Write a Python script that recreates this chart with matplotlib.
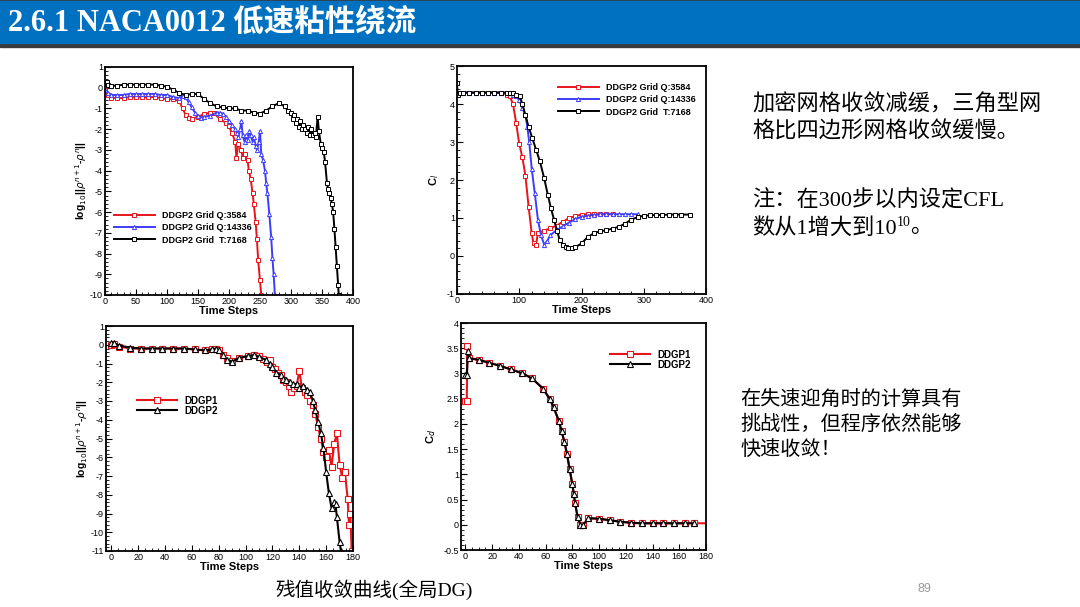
# NACA0012 slide: residual / lift / drag convergence curves
import numpy as np
import matplotlib
matplotlib.use('Agg')
import matplotlib.pyplot as plt
from matplotlib.patches import Rectangle
from matplotlib.ticker import MultipleLocator, FormatStrFormatter

plt.rcParams['font.family'] = ['Liberation Sans', 'DejaVu Sans']
plt.rcParams['axes.unicode_minus'] = False

# ---- top-left: residual, three grids ----
r1_t = [0, 5, 10, 20, 30, 40, 50, 60, 70, 80, 90, 100, 110, 120, 125, 130, 135, 140, 150, 160, 170, 175,
        185, 195, 200, 205, 210, 212, 215, 220, 222, 225, 230, 232, 235, 238, 240, 243, 245, 247, 250, 252]
r1_v = [-0.1, -0.35, -0.5, -0.5, -0.5, -0.45, -0.45, -0.45, -0.45, -0.45, -0.5, -0.55, -0.55, -0.65, -1.0, -1.3,
        -1.45, -1.5, -1.4, -1.27, -1.2, -1.2, -1.5, -1.7, -1.87, -2.2, -2.6, -3.4, -2.7, -3.0, -3.4, -3.2, -3.5,
        -4.0, -4.4, -5.1, -5.6, -6.5, -7.3, -8.3, -9.3, -10.0]
b1_t = [0, 5, 10, 20, 30, 40, 50, 60, 70, 80, 90, 100, 110, 120, 125, 130, 135, 140, 145, 150, 155, 160, 170,
        180, 185, 190, 195, 200, 205, 210, 213, 215, 218, 220, 222, 225, 228, 230, 233, 235, 238, 240, 243, 245,
        248, 250, 252, 255, 258, 260, 262, 265, 268, 270, 272, 274]
b1_v = [-0.1, -0.25, -0.35, -0.35, -0.35, -0.3, -0.3, -0.3, -0.3, -0.3, -0.35, -0.35, -0.45, -0.5, -0.4, -0.45,
        -0.7, -0.95, -1.2, -1.35, -1.45, -1.4, -1.35, -1.2, -1.2, -1.25, -1.4, -1.6, -1.8, -2.0, -2.2, -2.4, -2.0,
        -1.6, -2.3, -2.6, -2.3, -2.5, -2.1, -2.3, -2.6, -2.4, -2.8, -3.0, -2.6, -2.1, -3.2, -3.5, -4.0, -4.6,
        -5.1, -6.1, -7.2, -8.2, -9.0, -10.0]
k1_t = [0, 3, 5, 10, 20, 30, 40, 50, 60, 70, 80, 90, 100, 110, 120, 130, 140, 150, 160, 170, 180, 190, 200,
        210, 220, 230, 240, 250, 260, 270, 280, 290, 295, 300, 303, 305, 308, 310, 313, 315, 318, 320, 323, 325,
        328, 330, 333, 335, 338, 340, 343, 345, 348, 350, 353, 355, 358, 360, 362, 364, 366, 368, 370, 372, 374,
        376, 377]
k1_v = [0.2, 0.3, 0.15, 0.1, 0.1, 0.15, 0.15, 0.15, 0.15, 0.15, 0.15, 0.1, 0.05, -0.1, -0.25, -0.35, -0.3,
        -0.3, -0.55, -0.75, -0.9, -0.95, -1.0, -1.0, -1.1, -1.1, -1.2, -1.25, -1.1, -0.9, -0.75, -0.9, -1.1,
        -1.2, -1.5, -1.3, -1.7, -1.5, -1.9, -1.6, -2.0, -1.8, -2.0, -2.2, -1.9, -2.3, -2.0, -2.3, -2.2, -2.4,
        -1.4, -2.1, -2.7, -2.9, -3.1, -3.6, -4.6, -4.9, -5.1, -5.3, -5.6, -6.0, -6.8, -7.7, -8.6, -9.5, -10.0]

# ---- top-right: lift coefficient ----
r2_t = [0, 5, 10, 20, 30, 40, 50, 60, 70, 80, 85, 90, 95, 100, 105, 110, 115, 120, 123, 127, 130, 140, 150,
        160, 170, 180, 190, 200, 210, 220, 230, 240, 250]
r2_v = [4.25, 4.3, 4.3, 4.3, 4.3, 4.3, 4.3, 4.3, 4.3, 4.25, 4.2, 4.0, 3.5, 2.95, 2.6, 2.1, 1.3, 0.6, 0.33,
        0.3, 0.6, 0.67, 0.73, 0.8, 0.9, 1.0, 1.05, 1.09, 1.1, 1.1, 1.1, 1.1, 1.1]
b2_t = [0, 5, 10, 20, 30, 40, 50, 60, 70, 80, 90, 95, 100, 105, 110, 113, 116, 120, 125, 130, 135, 140, 145,
        150, 160, 170, 180, 190, 200, 210, 220, 230, 240, 250, 260, 270, 280, 290]
b2_v = [4.3, 4.3, 4.3, 4.3, 4.3, 4.3, 4.3, 4.3, 4.3, 4.3, 4.25, 4.2, 4.1, 3.9, 3.7, 3.4, 3.0, 2.3, 1.65, 0.95,
        0.55, 0.3, 0.4, 0.55, 0.68, 0.78, 0.88, 0.97, 1.03, 1.06, 1.08, 1.1, 1.1, 1.1, 1.1, 1.1, 1.1, 1.1]
k2_t = [0, 1, 5, 10, 20, 30, 40, 50, 60, 70, 80, 85, 90, 95, 101, 105, 110, 115, 121, 127, 133, 140, 146, 151,
        156, 161, 165, 170, 175, 179, 185, 190, 200, 210, 220, 230, 240, 250, 260, 270, 280, 290, 300, 310,
        320, 330, 340, 350, 360, 375]
k2_v = [4.55, 4.25, 4.3, 4.3, 4.3, 4.3, 4.3, 4.3, 4.3, 4.3, 4.3, 4.3, 4.28, 4.25, 4.2, 4.0, 3.7, 3.4, 3.1,
        2.8, 2.5, 2.05, 1.6, 1.25, 0.95, 0.65, 0.42, 0.3, 0.23, 0.2, 0.22, 0.23, 0.33, 0.5, 0.6, 0.65, 0.68,
        0.72, 0.77, 0.85, 0.96, 1.02, 1.06, 1.07, 1.08, 1.08, 1.09, 1.09, 1.09, 1.09]

# ---- bottom-left: residual DDGP1 / DDGP2 ----
p1_t = [0, 2, 6, 14, 22, 30, 38, 46, 54, 62, 70, 75, 78, 80, 83, 86, 90, 95, 102, 106, 110, 113, 116, 118,
        120, 122, 124, 126, 128, 130, 132, 134, 136, 138, 140, 142, 144, 146, 148, 150, 152, 154, 156, 158, 160,
        162, 164, 166, 168, 170, 172, 174, 176, 177, 178, 179]
p1_v = [0.0, 0.05, -0.1, -0.2, -0.2, -0.2, -0.2, -0.2, -0.2, -0.25, -0.3, -0.25, -0.2, -0.3, -0.55, -0.7,
        -0.85, -0.7, -0.6, -0.55, -0.6, -0.75, -0.9, -0.8, -1.2, -1.3, -1.5, -1.6, -1.9, -2.0, -2.2, -2.5,
        -2.3, -2.2, -1.4, -2.3, -2.5, -2.7, -3.0, -3.2, -3.7, -4.4, -5.0, -5.7, -6.0, -5.6, -6.5, -5.3, -4.7,
        -6.4, -7.1, -6.8, -8.2, -9.6, -9.0, -11.0]
p2_t = [0, 2, 6, 14, 22, 30, 38, 46, 54, 62, 70, 75, 78, 80, 83, 86, 90, 95, 102, 106, 110, 115, 118, 120,
        123, 126, 128, 130, 133, 135, 138, 140, 143, 146, 148, 150, 152, 154, 156, 158, 160, 162, 164, 166, 167,
        168, 170, 171]
p2_v = [0.1, 0.1, -0.05, -0.15, -0.2, -0.2, -0.2, -0.2, -0.2, -0.25, -0.3, -0.25, -0.2, -0.3, -0.55, -0.8,
        -0.9, -0.7, -0.6, -0.55, -0.65, -0.8, -1.0, -1.2, -1.5, -1.6, -1.8, -1.9, -2.0, -2.1, -2.1, -2.3, -2.2,
        -2.4, -2.5, -3.0, -3.5, -4.1, -4.7, -5.5, -6.8, -7.9, -8.7, -8.4, -8.5, -9.2, -10.5, -11.0]

# ---- bottom-right: drag coefficient ----
d1_t = [0, 1, 1.5, 3, 10, 18, 26, 34, 42, 50, 58, 63, 66, 70, 72, 74, 76, 78, 80, 81, 82, 84, 86, 88, 92,
        100, 108, 116, 124, 132, 140, 148, 156, 164, 171, 180]
d1_v = [2.45, 2.45, 3.55, 3.3, 3.27, 3.21, 3.15, 3.08, 3.01, 2.9, 2.7, 2.5, 2.33, 2.05, 1.85, 1.65, 1.4,
        1.1, 0.8, 0.62, 0.43, 0.15, 0.0, -0.01, 0.13, 0.12, 0.09, 0.06, 0.04, 0.03, 0.03, 0.03, 0.03, 0.03,
        0.03, 0.03]
d2_t = [0, 1, 2, 3, 10, 18, 26, 34, 42, 50, 58, 63, 66, 70, 72, 74, 76, 78, 80, 81, 82, 84, 86, 88, 92,
        100, 108, 116, 124, 132, 140, 148, 156, 164, 171]
d2_v = [2.97, 2.97, 3.45, 3.3, 3.27, 3.21, 3.15, 3.08, 3.01, 2.9, 2.7, 2.5, 2.33, 2.05, 1.85, 1.65, 1.4,
        1.1, 0.8, 0.62, 0.43, 0.15, 0.0, -0.01, 0.13, 0.12, 0.09, 0.06, 0.04, 0.03, 0.03, 0.03, 0.03, 0.03,
        0.03]

W, H = 1080, 607
fig = plt.figure(figsize=(10.8, 6.07), dpi=100)
fig.patch.set_facecolor('white')


def box(l, t, r, b):
    return [l / W, 1 - b / H, (r - l) / W, (b - t) / H]


def style(ax, xmaj, xmin, ymaj, ymin):
    ax.xaxis.set_major_locator(MultipleLocator(xmaj))
    ax.xaxis.set_minor_locator(MultipleLocator(xmin))
    ax.yaxis.set_major_locator(MultipleLocator(ymaj))
    ax.yaxis.set_minor_locator(MultipleLocator(ymin))
    ax.xaxis.set_major_formatter(FormatStrFormatter('%g'))
    ax.yaxis.set_major_formatter(FormatStrFormatter('%g'))
    ax.tick_params(which='both', direction='in', top=False, right=False, labelsize=6.5, pad=1.5)
    ax.tick_params(which='major', length=4, width=0.8)
    ax.tick_params(which='minor', length=2, width=0.6)
    for s in ax.spines.values():
        s.set_linewidth(1.3)
    ax.set_xlabel('Time Steps', fontsize=8, fontweight='bold', labelpad=0)


res_label = r'log$_{10}$||$\rho^{n+1}$-$\rho^{n}$||'
small = dict(ms=3, mfc='white', mew=0.7, lw=1.4)
big = dict(ms=5, mfc='white', mew=0.8, lw=1.5)
leg_top = dict(frameon=False, handlelength=4.5, prop={'size': 6.5, 'weight': 'bold'},
               labelspacing=0.35, borderaxespad=0.3)
leg_bot = dict(frameon=False, handlelength=4.1, prop={'size': 7, 'weight': 'bold'},
               labelspacing=0.0, borderaxespad=0.3)

# top-left
ax1 = fig.add_axes(box(105, 67, 353, 295))
ax1.plot(r1_t, r1_v, color='#e8141c', marker='s', label='DDGP2 Grid Q:3584', **small)
ax1.plot(b1_t, b1_v, color='#3c3cff', marker='^', label='DDGP2 Grid Q:14336', **small)
ax1.plot(k1_t, k1_v, color='black', marker='s', label='DDGP2 Grid  T:7168', **small)
ax1.set_xlim(0, 400)
ax1.set_ylim(-10, 1)
style(ax1, 50, 10, 1, 0.2)
ax1.set_ylabel(res_label, fontsize=7.5, fontweight='bold', labelpad=1)
ax1.legend(loc='upper left', bbox_to_anchor=(0.011, 0.395), **leg_top)

# top-right
ax2 = fig.add_axes(box(457, 66, 706, 294))
ax2.plot(r2_t, r2_v, color='#e8141c', marker='s', label='DDGP2 Grid Q:3584', **small)
ax2.plot(b2_t, b2_v, color='#3c3cff', marker='^', label='DDGP2 Grid Q:14336', **small)
ax2.plot(k2_t, k2_v, color='black', marker='s', label='DDGP2 Grid  T:7168', **small)
ax2.set_xlim(0, 400)
ax2.set_ylim(-1, 5)
style(ax2, 100, 20, 1, 0.2)
ax2.set_ylabel(r'C$_l$', fontsize=8, fontweight='bold', labelpad=4)
ax2.legend(loc='upper left', bbox_to_anchor=(0.38, 0.952), **leg_top)

# bottom-left
ax3 = fig.add_axes(box(106, 326, 353, 551))
ax3.plot(p1_t, p1_v, color='#e8141c', marker='s', label='DDGP1', **big)
ax3.plot(p2_t, p2_v, color='black', marker='^', label='DDGP2', **big)
ax3.set_xlim(-4, 180)
ax3.set_ylim(-11, 1)
style(ax3, 20, 5, 1, 0.2)
ax3.set_ylabel(res_label, fontsize=7.5, fontweight='bold', labelpad=1)
ax3.legend(loc='upper left', bbox_to_anchor=(0.097, 0.72), **leg_bot)

# bottom-right
ax4 = fig.add_axes(box(461, 323, 706, 550))
ax4.plot(d1_t, d1_v, color='#e8141c', marker='s', markevery=slice(0, len(d1_t) - 1), label='DDGP1', **big)
ax4.plot(d2_t, d2_v, color='black', marker='^', label='DDGP2', **big)
ax4.set_xlim(-3.3, 180)
ax4.set_ylim(-0.5, 4)
style(ax4, 20, 5, 0.5, 0.1)
ax4.set_ylabel(r'C$_d$', fontsize=8, fontweight='bold', labelpad=4)
ax4.legend(loc='upper left', bbox_to_anchor=(0.58, 0.912), **leg_bot)

# title bar
fig.add_artist(Rectangle((0, 1 - 47 / H), 1, 47 / H, transform=fig.transFigure, color='#3a3a3a', zorder=0))
fig.add_artist(Rectangle((0, 1 - 43 / H), 1, 42 / H, transform=fig.transFigure, color='#0070c0', zorder=1))
serif = ['Liberation Serif', 'Noto Sans CJK SC']
fig.text(8 / W, 1 - 23 / H, '2.6.1 NACA0012 低速粘性绕流', color='white', fontsize=22,
         fontweight='bold', family=serif, va='center', ha='left')

# side notes
fig.text(752 / W, 1 - 105 / H, '加密网格收敛减缓，三角型网', fontsize=16, family=serif, va='center')
fig.text(752 / W, 1 - 132 / H, '格比四边形网格收敛缓慢。', fontsize=16, family=serif, va='center')
fig.text(752 / W, 1 - 201 / H, '注：在300步以内设定CFL', fontsize=16, family=serif, va='center')
base = fig.text(752 / W, 1 - 228 / H, '数从1增大到10', fontsize=16, family=serif, va='center')
fig.canvas.draw()
bb = base.get_window_extent()
sup = fig.text(bb.x1 / W, 1 - 222 / H, '10', fontsize=10, family=serif, va='center')
fig.canvas.draw()
bb2 = sup.get_window_extent()
fig.text(bb2.x1 / W, 1 - 228 / H, '。', fontsize=16, family=serif, va='center')

fig.text(740 / W, 1 - 400 / H, '在失速迎角时的计算具有', fontsize=14.5, family=serif, va='center')
fig.text(740 / W, 1 - 425 / H, '挑战性，但程序依然能够', fontsize=14.5, family=serif, va='center')
fig.text(740 / W, 1 - 450 / H, '快速收敛！', fontsize=14.5, family=serif, va='center')

fig.text(275 / W, 1 - 590 / H, '残值收敛曲线(全局DG)', fontsize=14, family=serif, va='center')
fig.text(918 / W, 1 - 589 / H, '89', fontsize=9, color='#9a9a9a', va='center')

fig.savefig('out.png', dpi=100)
